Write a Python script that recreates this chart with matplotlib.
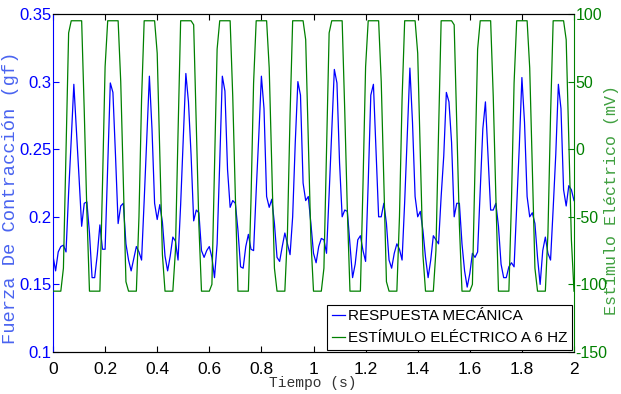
import matplotlib
matplotlib.use('Agg')
import matplotlib.pyplot as plt
import numpy as np

# Muestras a 100 Hz (0 .. 2 s)
respuesta_mecanica = [
    0.171, 0.160, 0.174, 0.178, 0.179, 0.174, 0.218, 0.257, 0.298, 0.264,
    0.229, 0.193, 0.210, 0.211, 0.188, 0.155, 0.155, 0.172, 0.194, 0.176,
    0.176, 0.237, 0.299, 0.292, 0.245, 0.195, 0.208, 0.210, 0.180, 0.168,
    0.160, 0.169, 0.178, 0.174, 0.168, 0.212, 0.259, 0.304, 0.265, 0.210,
    0.198, 0.209, 0.196, 0.171, 0.160, 0.171, 0.185, 0.182, 0.168, 0.209,
    0.257, 0.306, 0.285, 0.246, 0.197, 0.205, 0.203, 0.175, 0.170, 0.175,
    0.178, 0.170, 0.155, 0.180, 0.240, 0.304, 0.293, 0.235, 0.207, 0.212,
    0.210, 0.190, 0.163, 0.162, 0.178, 0.187, 0.176, 0.175, 0.219, 0.260,
    0.304, 0.280, 0.215, 0.207, 0.213, 0.195, 0.170, 0.167, 0.178, 0.188,
    0.180, 0.172, 0.200, 0.255, 0.300, 0.290, 0.225, 0.212, 0.215, 0.195,
    0.173, 0.166, 0.178, 0.184, 0.183, 0.173, 0.217, 0.263, 0.309, 0.299,
    0.240, 0.200, 0.205, 0.204, 0.180, 0.155, 0.165, 0.183, 0.186, 0.175,
    0.167, 0.225, 0.290, 0.298, 0.250, 0.200, 0.200, 0.210, 0.195, 0.168,
    0.162, 0.173, 0.180, 0.176, 0.168, 0.211, 0.260, 0.310, 0.270, 0.215,
    0.200, 0.204, 0.190, 0.170, 0.155, 0.168, 0.186, 0.183, 0.180, 0.215,
    0.245, 0.292, 0.285, 0.255, 0.200, 0.210, 0.210, 0.180, 0.160, 0.148,
    0.158, 0.173, 0.170, 0.174, 0.220, 0.265, 0.285, 0.245, 0.205, 0.205,
    0.210, 0.193, 0.165, 0.155, 0.155, 0.163, 0.166, 0.163, 0.208, 0.252,
    0.303, 0.270, 0.215, 0.200, 0.203, 0.195, 0.170, 0.150, 0.175, 0.185,
    0.173, 0.168, 0.206, 0.246, 0.298, 0.280, 0.220, 0.208, 0.223, 0.220,
    0.212,
]

estimulo_electrico = [
    -105, -105, -105, -105, -88, -1, 86, 95, 95, 95, 95, 95, 28, -46,
    -105, -105, -105, -105, -105, -26, 61, 95, 95, 95, 95, 95, 50, -24, -98,
    -105, -105, -105, -105, -50, 37, 95, 95, 95, 95, 95, 71, -4, -78,
    -105, -105, -105, -105, -75, 12, 95, 95, 95, 95, 95, 92, 18, -56,
    -105, -105, -105, -105, -100, -13, 74, 95, 95, 95, 95, 95, 39, -35,
    -105, -105, -105, -105, -105, -38, 49, 95, 95, 95, 95, 95, 60, -14, -88,
    -105, -105, -105, -105, -62, 25, 95, 95, 95, 95, 95, 81, 7, -67,
    -105, -105, -105, -105, -88, -1, 86, 95, 95, 95, 95, 95, 28, -46,
    -105, -105, -105, -105, -105, -26, 61, 95, 95, 95, 95, 95, 50, -24, -98,
    -105, -105, -105, -105, -50, 37, 95, 95, 95, 95, 95, 71, -4, -78,
    -105, -105, -105, -105, -75, 12, 95, 95, 95, 95, 95, 92, 18, -56,
    -105, -105, -105, -105, -100, -13, 74, 95, 95, 95, 95, 95, 39, -35,
    -105, -105, -105, -105, -105, -38, 49, 95, 95, 95, 95, 95, 60, -14, -88,
    -105, -105, -105, -105, -62, 25, 95, 95, 95, 95, 95, 81, 7, -67,
    -105,
]

x_ticks = [0, 0.2, 0.4, 0.6, 0.8, 1, 1.2, 1.4, 1.6, 1.8, 2]
x_ticklabels = ['0', '0.2', '0.4', '0.6', '0.8', '1', '1.2', '1.4', '1.6', '1.8', '2']
left_ticks = [0.1, 0.15, 0.2, 0.25, 0.3, 0.35]
left_ticklabels = ['0.1', '0.15', '0.2', '0.25', '0.3', '0.35']
right_ticks = [-150, -100, -50, 0, 50, 100]

tiempo = np.arange(len(respuesta_mecanica)) * 0.01
tiempo_est = np.arange(len(estimulo_electrico)) * 0.01

BLUE = (0, 0, 1)
GREEN = (0, 0.5, 0)
tick_font = 'Liberation Sans'
mono_font = 'Liberation Mono'

fig = plt.figure(figsize=(6.21, 3.94), dpi=100, facecolor='white')
ax1 = fig.add_axes([53 / 621, 1 - 352 / 394, 521 / 621, 338 / 394])
ax2 = ax1.twinx()

ln1, = ax1.plot(tiempo, respuesta_mecanica, color=BLUE, linewidth=0.9)
ln2, = ax2.plot(tiempo_est, estimulo_electrico, color=GREEN, linewidth=0.9)

ax1.set_xlim(0, 2)
ax1.set_ylim(0.1, 0.35)
ax2.set_ylim(-150, 100)

ax1.set_xticks(x_ticks)
ax1.set_xticklabels(x_ticklabels, family=tick_font, fontsize=12.5)
ax1.set_yticks(left_ticks)
ax1.set_yticklabels(left_ticklabels, family=tick_font, fontsize=12, color=BLUE)
ax2.set_yticks(right_ticks)
ax2.set_yticklabels([str(v) for v in right_ticks], family=tick_font, fontsize=11.5, color=GREEN)

ax1.tick_params(axis='x', direction='in', length=4, top=True, pad=7, colors='black')
ax1.tick_params(axis='y', direction='in', length=4, pad=1, colors=BLUE)
ax2.tick_params(axis='y', direction='in', length=4, pad=1, colors=GREEN)

# spines
ax1.spines['left'].set_color(BLUE)
ax1.spines['right'].set_visible(False)
ax2.spines['left'].set_visible(False)
ax2.spines['right'].set_color(GREEN)
for ax in (ax1, ax2):
    ax.spines['top'].set_color('black')
    ax.spines['bottom'].set_color('black')

# labels
ax1.set_xlabel('Tiempo (s)', family=mono_font, fontsize=10.5, color='#333333')
ax1.xaxis.set_label_coords(0.499, -0.072)
ax1.set_ylabel('Fuerza De Contracción (gf)', family=mono_font, fontsize=13.5, color='#4a64f0')
ax1.yaxis.set_label_coords(-0.066, 0.456)
ax2.set_ylabel('Estímulo Eléctrico (mV)', family=mono_font, fontsize=12, color='#40a040')
ax2.yaxis.set_label_coords(1.057, 0.45)

leg = ax2.legend([ln1, ln2], ['RESPUESTA MECÁNICA', 'ESTÍMULO ELÉCTRICO A 6 HZ'],
                 loc='lower right', prop={'family': tick_font, 'size': 11},
                 handlelength=0.9, handletextpad=0.15, labelspacing=0.5,
                 borderpad=0.3, borderaxespad=0.15, fancybox=False,
                 framealpha=1, edgecolor='black')
leg.get_frame().set_linewidth(0.8)

plt.savefig('out.png', dpi=100, facecolor='white')
plt.close()
